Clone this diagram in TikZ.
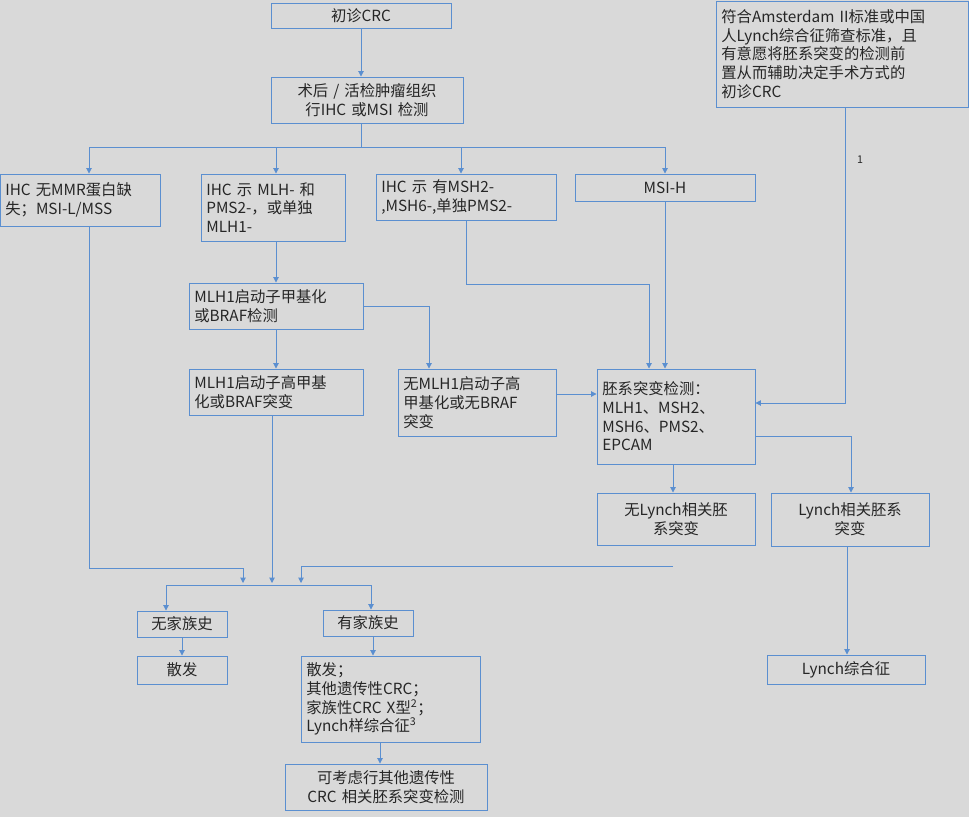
\documentclass[tikz,border=0pt]{standalone}
\usepackage{fontspec}
\setmainfont{Noto Sans CJK SC}
\usetikzlibrary{arrows.meta}
\definecolor{bg}{HTML}{D9D9D9}
\definecolor{ln}{HTML}{5B8FD0}
\definecolor{tx}{HTML}{262626}
\newcommand{\bx}[7]{\node[box,align=#6,minimum width={(#4-#2)*0.75pt},minimum height={(#5-#3)*0.75pt},text width={(#4-#2)*0.75pt-8pt}] (#1) at ({(#2+#4)/2},{(#3+#5)/2}) {#7};}
\begin{document}
\begin{tikzpicture}[x=0.75pt,y=-0.75pt,
  box/.style={draw=ln,line width=0.7pt,fill=bg,text=tx,inner sep=0pt,font=\fontsize{11.5}{14}\selectfont},
  arr/.style={draw=ln,line width=0.7pt,-{Triangle[width=4pt,length=4pt]}},
  ln/.style={draw=ln,line width=0.7pt}]
\fill[bg] (0,0) rectangle (969,817);
\useasboundingbox (0,0) rectangle (969,817);
\bx{A}{271}{3}{451}{28}{center}{初诊CRC}
\bx{B}{271}{77}{463}{123}{center}{术后 / 活检肿瘤组织\\行IHC 或MSI 检测}
\bx{R}{716}{1}{968}{107}{left}{符合Amsterdam II标准或中国\\人Lynch综合征筛查标准，且\\有意愿将胚系突变的检测前\\置从而辅助决定手术方式的\\初诊CRC}
\bx{C1}{0}{174}{160}{226}{left}{IHC 无MMR蛋白缺\\失；MSI-L/MSS}
\bx{C2}{201}{174}{345}{241}{left}{IHC 示 MLH- 和\\PMS2-，或单独\\MLH1-}
\bx{C3}{376}{174}{556}{220}{left}{IHC 示 有MSH2-\\,MSH6-,单独PMS2-}
\bx{C4}{575}{174}{755}{201}{center}{MSI-H}
\bx{D}{189}{283}{363}{329}{left}{MLH1启动子甲基化\\或BRAF检测}
\bx{E1}{189}{369}{363}{415}{left}{MLH1启动子高甲基\\化或BRAF突变}
\bx{E2}{398}{369}{556}{436}{left}{无MLH1启动子高\\甲基化或无BRAF\\突变}
\bx{G}{597}{369}{755}{464}{left}{胚系突变检测：\\MLH1、MSH2、\\MSH6、PMS2、\\EPCAM}
\bx{H1}{597}{493}{755}{545}{center}{无Lynch相关胚\\系突变}
\bx{H2}{771}{493}{929}{546}{center}{Lynch相关胚系\\突变}
\bx{L}{767}{655}{925}{684}{center}{Lynch综合征}
\bx{N1}{137}{611}{227}{637}{center}{无家族史}
\bx{N2}{323}{610}{413}{636}{center}{有家族史}
\bx{S}{137}{656}{227}{684}{center}{散发}
\bx{F}{301}{656}{480}{742}{left}{散发；\\其他遗传性CRC；\\家族性CRC X型\textsuperscript{2}；\\Lynch样综合征\textsuperscript{3}}
\bx{K}{285}{764}{487}{810}{center}{可考虑行其他遗传性\\CRC 相关胚系突变检测}
\node[font=\fontsize{8}{9}\selectfont,text=tx] (n1) at (860,160) {1};
% connectors
\draw[arr] (A.south -| 361,0) -- (B.north -| 361,0);
\coordinate (b1) at (361,147);
\draw[ln] (B.south -| 361,0) -- (b1);
\draw[ln] (89,147) -- (665,147);
\draw[arr] (89,147) -- (C1.north -| 89,0);
\draw[arr] (276,147) -- (C2.north -| 276,0);
\draw[arr] (461,147) -- (C3.north -| 461,0);
\draw[arr] (665,147) -- (C4.north -| 665,0);
\draw[arr] (C2.south -| 276,0) -- (D.north -| 276,0);
\draw[arr] (D.south -| 276,0) -- (E1.north -| 276,0);
\draw[arr] (D.east) -- (429,306) -- (E2.north -| 429,0);
\draw[arr] (C3.south -| 466,0) -- (466,284) -- (649,284) -- (G.north -| 649,0);
\draw[arr] (C4.south -| 665,0) -- (G.north -| 665,0);
\draw[arr] (E2.east |- 0,394) -- (G.west |- 0,394);
\draw[arr] (R.south -| 845,0) -- (845,403) -- (G.east |- 0,403);
\draw[arr] (G.south -| 673,0) -- (H1.north -| 673,0);
\draw[arr] (G.east |- 0,436) -- (851,436) -- (H2.north -| 851,0);
\draw[arr] (H2.south -| 847,0) -- (L.north -| 847,0);
\draw[arr] (C1.south -| 89,0) -- (89,568) -- (243,568) -- (243,583);
\draw[arr] (E1.south -| 272,0) -- (272,583);
\draw[arr] (673,566) -- (301,566) -- (301,583);
\draw[ln] (166,585) -- (371,585);
\draw[arr] (166,585) -- (N1.north -| 166,0);
\draw[arr] (371,585) -- (N2.north -| 371,0);
\draw[arr] (N1.south -| 182,0) -- (S.north -| 182,0);
\draw[arr] (N2.south -| 373,0) -- (F.north -| 373,0);
\draw[arr] (F.south -| 380,0) -- (K.north -| 380,0);
\end{tikzpicture}
\end{document}
